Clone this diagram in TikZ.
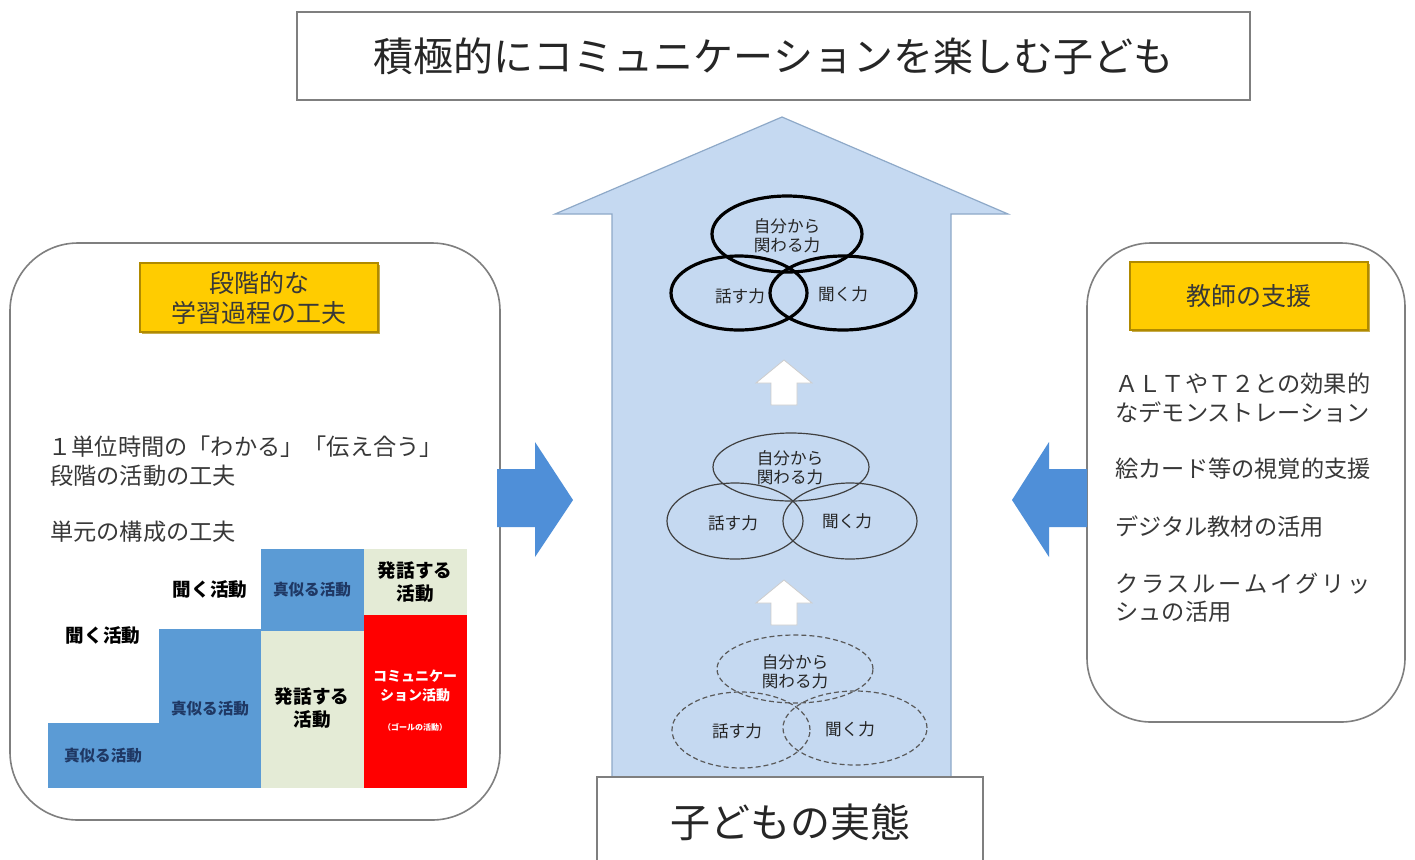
\documentclass[tikz,border=0pt]{standalone}
\usepackage{fontspec}
\setmainfont{Noto Sans CJK JP}
\definecolor{arrowbg}{HTML}{C5D9F1}
\definecolor{arrowln}{HTML}{8EA9C8}
\definecolor{cellblue}{HTML}{5B9BD5}
\definecolor{cellnavy}{HTML}{1F3864}
\definecolor{cellgreen}{HTML}{E4EBD6}
\definecolor{sideblue}{HTML}{4F8FD8}
\definecolor{gold}{HTML}{FFCC00}
\definecolor{goldln}{HTML}{B08A00}
\definecolor{panelln}{HTML}{7F7F7F}
\definecolor{txtgray}{HTML}{383838}
\tikzset{
  panel/.style={draw=panelln, line width=0.8pt, fill=white, rounded corners=34pt},
  headbox/.style={draw=goldln, line width=0.8pt, fill=gold, inner sep=0pt, align=center, text=txtgray, font=\fontsize{12.5pt}{15pt}\selectfont},
  sidetxt/.style={anchor=west, inner sep=0pt, text=txtgray, align=left, font=\fontsize{11.6pt}{14pt}\selectfont},
  elltxt/.style={inner sep=0pt, align=center, text=black!85, font=\fontsize{8.3pt}{9.5pt}\selectfont},
  thickell/.style={draw=black, line width=1.6pt},
  thinell/.style={draw=black!75, line width=0.6pt},
  dashell/.style={draw=black!65, line width=0.6pt, dash pattern=on 2.5pt off 1.5pt},
  celltxt/.style={inner sep=0pt, align=center, font=\bfseries\fontsize{9.3pt}{11.5pt}\selectfont},
  smallcell/.style={inner sep=0pt, align=center, text=cellnavy, font=\bfseries\fontsize{7.8pt}{9pt}\selectfont},
  uparrow/.style={fill=white, draw=black!20, line width=0.4pt},
  bluearrow/.style={fill=sideblue, draw=none},
}
\begin{document}
\begin{tikzpicture}[x=0.5pt,y=-0.5pt]
\useasboundingbox (0,0) rectangle (1415,859);
\clip (0,0) rectangle (1415,859);
\fill[white] (0,0) rectangle (1415,859);

% title
\node[draw=panelln, line width=0.8pt, fill=white, minimum width=476.5pt, minimum height=44pt, inner sep=0pt,
      font=\fontsize{20pt}{24pt}\selectfont, text=black!85] (title) at (773.5,56) {積極的にコミュニケーションを楽しむ子ども};

% big arrow
\draw[fill=arrowbg, draw=arrowln, line width=0.6pt] (782,117) -- (1008,214) -- (951,214) -- (951,790) -- (612,790) -- (612,214) -- (555,214) -- cycle;
\coordinate (bigtip) at (782,117);

% bottom box
\draw[draw=panelln, line width=0.8pt, fill=white] (597,870) -- (597,777) -- (983,777) -- (983,870);
\node[font=\fontsize{20pt}{24pt}\selectfont, text=black!85, inner sep=0pt] (state) at (790,822) {子どもの実態};

% left panel
\draw[panel] (10,243) rectangle (500,820);
\fill[goldln!70] (142,265) rectangle (380,334);
\node[headbox, minimum width=119pt, minimum height=34.5pt] (lhead) at (259,297.5) {段階的な\\学習過程の工夫};
\node[sidetxt] (l1) at (48,447) {１単位時間の「わかる」「伝え合う」};
\node[sidetxt] (l2) at (50,476) {段階の活動の工夫};
\node[sidetxt] (l3) at (50,532) {単元の構成の工夫};

% grid
\fill[white] (48,549) rectangle (159,723);
\fill[cellblue] (48,723) rectangle (159,788);
\fill[white] (159,549) rectangle (261,629);
\fill[cellblue] (159,629) rectangle (261,788);
\fill[cellblue] (261,549) rectangle (364,631);
\fill[cellgreen] (261,631) rectangle (364,788);
\fill[cellgreen] (364,549) rectangle (467,615);
\fill[red] (364,615) rectangle (467,788);
\node[celltxt] (g1) at (103,635) {聞く活動};
\node[smallcell] (g2) at (103,756) {真似る活動};
\node[celltxt] (g3) at (210,589) {聞く活動};
\node[smallcell] (g4) at (210,709) {真似る活動};
\node[smallcell] (g5) at (312,590) {真似る活動};
\node[celltxt] (g6) at (312,708) {発話する\\活動};
\node[celltxt] (g7) at (415,582) {発話する\\活動};
\node[inner sep=0pt, align=center, text=white, font=\bfseries\fontsize{7pt}{9.5pt}\selectfont] (g8) at (415,686) {コミュニケー\\ション活動};
\node[inner sep=0pt, text=white, font=\bfseries\fontsize{4pt}{5pt}\selectfont] (g9) at (415,727) {（ゴールの活動）};

% right panel
\draw[panel, rounded corners=32pt] (1087,243) rectangle (1405,722);
\fill[goldln!70] (1132,264) rectangle (1370,332);
\node[headbox, minimum width=119pt, minimum height=34pt] (rhead) at (1249,296) {教師の支援};
\node[sidetxt] (r1) at (1115,384) {ＡＬＴやＴ２との効果的};
\node[sidetxt] (r2) at (1115,412) {なデモンストレーション};
\node[sidetxt] (r3) at (1115,469) {絵カード等の視覚的支援};
\node[sidetxt] (r4) at (1115,527) {デジタル教材の活用};
\node[sidetxt, font=\fontsize{11.6pt}{14pt}\selectfont\addfontfeature{LetterSpace=12}] (r5) at (1115,584) {クラスルームイグリッ};
\node[sidetxt] (r6) at (1115,612) {シュの活用};

% side arrows
\fill[bluearrow] (497,469) -- (535,469) -- (535,442) -- (573,500) -- (535,557) -- (535,527) -- (497,527) -- cycle;
\fill[bluearrow] (1087,469) -- (1049,469) -- (1049,442) -- (1012,500) -- (1049,557) -- (1049,527) -- (1087,527) -- cycle;

% small up arrows
\draw[uparrow] (784,360) -- (812,383) -- (797,383) -- (797,405) -- (771,405) -- (771,383) -- (756,383) -- cycle;
\draw[uparrow] (784,580) -- (812,603) -- (797,603) -- (797,625) -- (771,625) -- (771,603) -- (756,603) -- cycle;

% top ellipses (thick)
\draw[thickell] (787,234) ellipse [x radius=37.5pt, y radius=19pt];
\draw[thickell] (739,293) ellipse [x radius=34pt, y radius=18.5pt];
\draw[thickell] (843,293) ellipse [x radius=36.5pt, y radius=18.5pt];
\node[elltxt] (t1) at (787,236) {自分から\\関わる力};
\node[elltxt] (t2) at (740,296) {話す力};
\node[elltxt] (t3) at (843,294) {聞く力};

% middle ellipses (thin)
\draw[thinell] (791,467) ellipse [x radius=39pt, y radius=17pt];
\draw[thinell] (735,521) ellipse [x radius=34pt, y radius=19pt];
\draw[thinell] (850,521) ellipse [x radius=33.5pt, y radius=19pt];
\node[elltxt] (m1) at (790,468) {自分から\\関わる力};
\node[elltxt] (m2) at (733,523) {話す力};
\node[elltxt] (m3) at (847,521) {聞く力};

% bottom ellipses (dashed)
\draw[dashell] (795,669) ellipse [x radius=39pt, y radius=17pt];
\draw[dashell] (741,730) ellipse [x radius=34.5pt, y radius=19pt];
\draw[dashell] (855,728) ellipse [x radius=36pt, y radius=18.5pt];
\node[elltxt] (b1) at (795,672) {自分から\\関わる力};
\node[elltxt] (b2) at (737,731) {話す力};
\node[elltxt] (b3) at (850,729) {聞く力};
\end{tikzpicture}
\end{document}
